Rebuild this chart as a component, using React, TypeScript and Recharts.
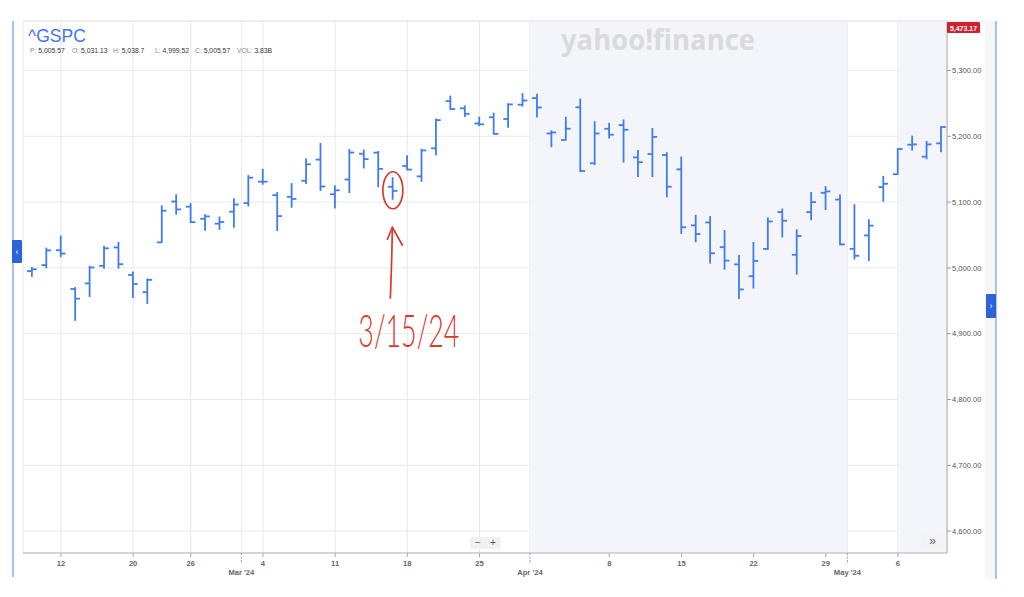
import React from 'react';
import {
  ComposedChart,
  Bar,
  XAxis,
  YAxis,
  CartesianGrid,
  ReferenceArea,
  ReferenceDot,
} from 'recharts';

// ---------- data ----------
const dates = [
  '2024-02-08', '2024-02-09', '2024-02-12', '2024-02-13', '2024-02-14', '2024-02-15', '2024-02-16',
  '2024-02-20', '2024-02-21', '2024-02-22', '2024-02-23', '2024-02-26', '2024-02-27', '2024-02-28',
  '2024-02-29', '2024-03-01', '2024-03-04', '2024-03-05', '2024-03-06', '2024-03-07', '2024-03-08',
  '2024-03-11', '2024-03-12', '2024-03-13', '2024-03-14', '2024-03-15', '2024-03-18', '2024-03-19',
  '2024-03-20', '2024-03-21', '2024-03-22', '2024-03-25', '2024-03-26', '2024-03-27', '2024-03-28',
  '2024-04-01', '2024-04-02', '2024-04-03', '2024-04-04', '2024-04-05', '2024-04-08', '2024-04-09',
  '2024-04-10', '2024-04-11', '2024-04-12', '2024-04-15', '2024-04-16', '2024-04-17', '2024-04-18',
  '2024-04-19', '2024-04-22', '2024-04-23', '2024-04-24', '2024-04-25', '2024-04-26', '2024-04-29',
  '2024-04-30', '2024-05-01', '2024-05-02', '2024-05-03', '2024-05-06', '2024-05-07', '2024-05-08',
  '2024-05-09',
];

const opens = [
  4995.2, 5004.2, 5026.8, 4967.9, 4976.4, 5003.1, 5031.1,
  4989.3, 4963.0, 5038.8, 5100.9, 5093.0, 5074.6, 5067.2,
  5085.4, 5098.5, 5131.0, 5110.5, 5108.0, 5132.4, 5164.5,
  5112.0, 5134.3, 5173.5, 5175.1, 5123.3, 5154.8, 5139.1,
  5181.7, 5253.4, 5242.5, 5219.5, 5228.9, 5226.3, 5248.0,
  5258.0, 5204.3, 5194.4, 5244.1, 5159.0, 5211.4, 5217.0,
  5167.9, 5173.0, 5171.5, 5149.7, 5064.6, 5069.0, 5031.5,
  5005.4, 4987.3, 5028.9, 5084.9, 5019.9, 5084.7, 5114.1,
  5103.8, 5029.0, 5049.3, 5122.8, 5142.4, 5187.2, 5169.0,
  5189.3,
];

const highs = [
  5000.4, 5030.1, 5048.4, 4970.0, 5002.5, 5032.7, 5038.7,
  4993.7, 4983.2, 5094.4, 5111.1, 5097.7, 5080.7, 5077.4,
  5105.0, 5140.3, 5149.7, 5114.5, 5128.0, 5165.6, 5189.3,
  5124.7, 5179.9, 5179.1, 5176.9, 5136.9, 5170.3, 5180.3,
  5226.2, 5261.1, 5246.1, 5229.1, 5235.2, 5249.3, 5264.9,
  5264.0, 5208.3, 5228.8, 5256.6, 5222.2, 5219.6, 5224.8,
  5178.4, 5211.8, 5175.0, 5168.4, 5079.8, 5078.0, 5056.7,
  5019.0, 5038.8, 5076.1, 5089.5, 5057.8, 5114.6, 5123.5,
  5110.8, 5096.1, 5073.2, 5139.1, 5181.0, 5200.2, 5192.0,
  5214.4,
];

const lows = [
  4987.1, 5000.3, 5016.8, 4920.3, 4956.5, 4999.4, 4999.5,
  4955.0, 4946.0, 5038.8, 5081.5, 5068.9, 5057.3, 5058.4,
  5061.9, 5094.2, 5127.2, 5056.8, 5092.2, 5128.2, 5117.5,
  5091.1, 5114.5, 5151.9, 5123.3, 5104.4, 5149.0, 5131.6,
  5171.6, 5240.7, 5229.9, 5216.1, 5203.4, 5213.9, 5245.8,
  5229.2, 5184.1, 5194.4, 5146.1, 5157.2, 5197.4, 5160.8,
  5138.7, 5138.8, 5107.9, 5052.5, 5039.8, 5007.3, 4998.1,
  4953.6, 4969.4, 5028.0, 5047.0, 4990.6, 5073.1, 5088.7,
  5035.3, 5013.5, 5011.1, 5101.2, 5142.4, 5179.0, 5165.9,
  5176.5,
];

const closes = [
  4997.9, 5026.6, 5021.8, 4953.2, 5000.6, 5029.7, 5005.6,
  4975.5, 4981.8, 5087.0, 5088.8, 5069.5, 5078.2, 5069.8,
  5096.3, 5137.1, 5131.0, 5078.7, 5104.8, 5157.4, 5123.7,
  5117.9, 5175.3, 5165.3, 5150.5, 5117.1, 5149.4, 5178.5,
  5224.6, 5241.5, 5234.2, 5218.2, 5203.6, 5248.5, 5254.4,
  5243.8, 5205.8, 5211.5, 5147.2, 5204.3, 5202.4, 5209.9,
  5160.6, 5199.1, 5123.4, 5061.8, 5051.4, 5022.2, 5011.1,
  4967.2, 5010.6, 5070.6, 5071.6, 5048.4, 5100.0, 5116.2,
  5035.7, 5018.4, 5064.2, 5127.8, 5180.7, 5187.7, 5187.7,
  5214.1,
];

// x-axis ticks (trading-day index) and labels
const dayTickIdx = [2, 7, 11, 16, 21, 26, 31, 40, 45, 50, 55, 60];
const dayTickLabels = ['12', '20', '26', '4', '11', '18', '25', '8', '15', '22', '29', '6'];
const monthTickIdx = [14.5, 34.5, 56.5];
const monthTickLabels = ["Mar '24", "Apr '24", "May '24"];

const yTicks = [4600, 4700, 4800, 4900, 5000, 5100, 5200, 5300];
const xDomain = [-0.63, 63.4];
const yDomain = [4566.7, 5375.2];

const shadedRanges = [
  [34.5, 56.5],
  [60, 63.4],
];

const annotatedIdx = 25;
const annotatedLevel = 5118;
const annotatedLabel = '3/15/24';

const symbol = '^GSPC';
const headerLabels = ['P:', 'O:', 'H:', 'L:', 'C:', 'VOL:'];
const headerValues = ['5,005.57', '5,031.13', '5,038.7', '4,999.52', '5,005.57', '3.83B'];
const lastPrice = '5,473.17';

const data = dates.map((d, i) => ({
  i,
  date: d,
  o: opens[i],
  h: highs[i],
  l: lows[i],
  c: closes[i],
  range: [lows[i], highs[i]],
}));

// ---------- styles ----------
const BAR = '#3f7cf0';
const RED = '#d63a2e';
const FONT = '"Liberation Sans", Arial, sans-serif';

const OhlcShape = (props: any) => {
  const { x, y, width, height, payload } = props;
  if (x == null || y == null) return null;
  const top = Math.min(y, y + height);
  const bot = Math.max(y, y + height);
  const cx = x + width / 2;
  const span = payload.h - payload.l;
  const py = (v: number) => (span > 0 ? top + ((payload.h - v) / span) * (bot - top) : top);
  const oy = py(payload.o);
  const cy = py(payload.c);
  return (
    <g stroke={BAR} strokeWidth={1.8} fill="none">
      <line x1={cx} x2={cx} y1={top - 0.5} y2={bot + 0.5} />
      <line x1={cx - 4.8} x2={cx} y1={oy} y2={oy} />
      <line x1={cx} x2={cx + 4.8} y1={cy} y2={cy} />
    </g>
  );
};

const XTick = (props: any) => {
  const { x, y, payload } = props;
  const v = payload.value;
  const mi = monthTickIdx.indexOf(v);
  if (mi >= 0) {
    return (
      <g>
        <line x1={x} x2={x} y1={y} y2={y + 11} stroke="#9a9a9a" strokeWidth={1} strokeDasharray="2 1.5" />
        <text x={x} y={y + 22} textAnchor="middle" fontSize={7.6} fontWeight={700} fill="#666" fontFamily={FONT}>
          {monthTickLabels[mi]}
        </text>
      </g>
    );
  }
  const di = dayTickIdx.indexOf(v);
  return (
    <g>
      <line x1={x} x2={x} y1={y} y2={y + 4} stroke="#aaa" strokeWidth={1} />
      <text x={x} y={y + 13} textAnchor="middle" fontSize={7.6} fontWeight={700} fill="#666" fontFamily={FONT}>
        {di >= 0 ? dayTickLabels[di] : ''}
      </text>
    </g>
  );
};

const Annotation = (props: any) => {
  const { cx, cy } = props;
  if (cx == null || cy == null) return null;
  return (
    <g fill="none" stroke={RED} strokeWidth={1.7} strokeLinecap="round" strokeLinejoin="round">
      <ellipse cx={cx} cy={cy} rx={10} ry={18.5} />
      <path d={`M ${cx - 2.5} ${cy + 108} Q ${cx - 1} ${cy + 70} ${cx - 0.5} ${cy + 37}`} />
      <path d={`M ${cx - 5.5} ${cy + 49} L ${cx - 0.5} ${cy + 37} L ${cx + 9.5} ${cy + 55}`} />
      <text
        x={cx - 34.5}
        y={cy + 157}
        fill={RED}
        stroke="none"
        fontSize={46}
        fontWeight={300}
        fontFamily='Lato, sans-serif'
        textLength={101}
        lengthAdjust="spacingAndGlyphs"
      >
        {annotatedLabel}
      </text>
    </g>
  );
};

const Overlay = () => {
  const xs = [30, 72, 113, 155, 195, 237];
  return (
    <svg
      width={1024}
      height={597}
      style={{ position: 'absolute', left: 0, top: 0, pointerEvents: 'none' }}
    >
      {/* frame */}
      <rect x={985} y={21} width={11} height={558} fill="#f6f6f6" />
      <line x1={23} x2={985} y1={21} y2={21} stroke="#e6e6e6" strokeWidth={1} />
      <line x1={13} x2={13} y1={21} y2={577} stroke="#a9c1f0" strokeWidth={2} />
      <line x1={996} x2={996} y1={21} y2={579} stroke="#a9c1f0" strokeWidth={2} />
      {/* side tabs */}
      <rect x={12} y={240} width={10} height={23} fill="#2d62d8" rx={1} />
      <text x={17} y={254.5} textAnchor="middle" fontSize={9} fill="#fff" fontFamily={FONT}>‹</text>
      <rect x={986} y={294} width={10} height={24} fill="#2d62d8" rx={1} />
      <text x={991} y={309} textAnchor="middle" fontSize={9} fill="#fff" fontFamily={FONT}>›</text>
      {/* title */}
      <text x={28} y={42} fontSize={17.5} fill="#3f76f2" fontFamily={FONT}>{symbol}</text>
      {headerLabels.map((l, k) => (
        <text key={l} x={xs[k]} y={53} fontSize={6.8} fontFamily={FONT}>
          <tspan fill="#8a8a8a">{l} </tspan>
          <tspan fill="#333">{headerValues[k]}</tspan>
        </text>
      ))}
      {/* watermark */}
      <text
        x={561}
        y={50}
        fontSize={29}
        fontWeight={700}
        fill="#dadada"
        fontFamily='"Open Sans", Lato, sans-serif'
        textLength={194}
        lengthAdjust="spacingAndGlyphs"
      >
        yahoo!finance
      </text>
      {/* last price tag */}
      <rect x={947} y={22} width={33} height={11} fill="#d0202e" rx={1} />
      <text x={963.5} y={30.5} textAnchor="middle" fontSize={7} fontWeight={700} fill="#fff" fontFamily={FONT}>
        {lastPrice}
      </text>
      {/* zoom buttons */}
      <rect x={470} y={537} width={31} height={12} fill="#f1f1f1" rx={2} />
      <text x={478} y={546} textAnchor="middle" fontSize={10} fill="#555" fontFamily={FONT}>−</text>
      <text x={493} y={546} textAnchor="middle" fontSize={10} fill="#555" fontFamily={FONT}>+</text>
      <rect x={922} y={534} width={21} height={14} fill="#f3f3f3" rx={2} />
      <text x={932.5} y={545} textAnchor="middle" fontSize={12} fill="#666" fontFamily={FONT}>»</text>
    </svg>
  );
};

export default function App() {
  const xTicks = [...dayTickIdx, ...monthTickIdx].sort((a, b) => a - b);
  return (
    <div style={{ position: 'absolute', left: 0, top: 0, width: 1024, height: 597, background: '#fff' }}>
      <ComposedChart
        width={1024}
        height={597}
        data={data}
        margin={{ top: 21, right: 0, left: 23, bottom: 0 }}
      >
        {shadedRanges.map(([a, b], k) => (
          <ReferenceArea key={k} x1={a} x2={b} fill="#f3f5fa" fillOpacity={1} stroke="none" ifOverflow="hidden" />
        ))}
        <CartesianGrid stroke="#e9e9ec" strokeWidth={1} />
        <XAxis
          type="number"
          dataKey="i"
          domain={xDomain}
          allowDataOverflow
          ticks={xTicks}
          interval={0}
          tick={<XTick />}
          tickLine={false}
          tickSize={0}
          tickMargin={0}
          height={44}
          axisLine={{ stroke: '#b8b8b8', strokeWidth: 1.2 }}
        />
        <YAxis
          orientation="right"
          domain={yDomain}
          allowDataOverflow
          ticks={yTicks}
          interval={0}
          width={77}
          tickSize={4}
          tickMargin={1}
          tickLine={{ stroke: '#999' }}
          axisLine={{ stroke: '#aaa' }}
          tick={{ fontSize: 7.6, fill: '#555', fontFamily: FONT }}
          tickFormatter={(v: number) => v.toLocaleString('en-US', { minimumFractionDigits: 2, maximumFractionDigits: 2 })}
        />
        <Bar dataKey="range" barSize={10} shape={<OhlcShape />} isAnimationActive={false} />
        <ReferenceDot
          x={annotatedIdx}
          y={annotatedLevel}
          r={1}
          ifOverflow="visible"
          shape={<Annotation />}
        />
      </ComposedChart>
      <Overlay />
    </div>
  );
}
